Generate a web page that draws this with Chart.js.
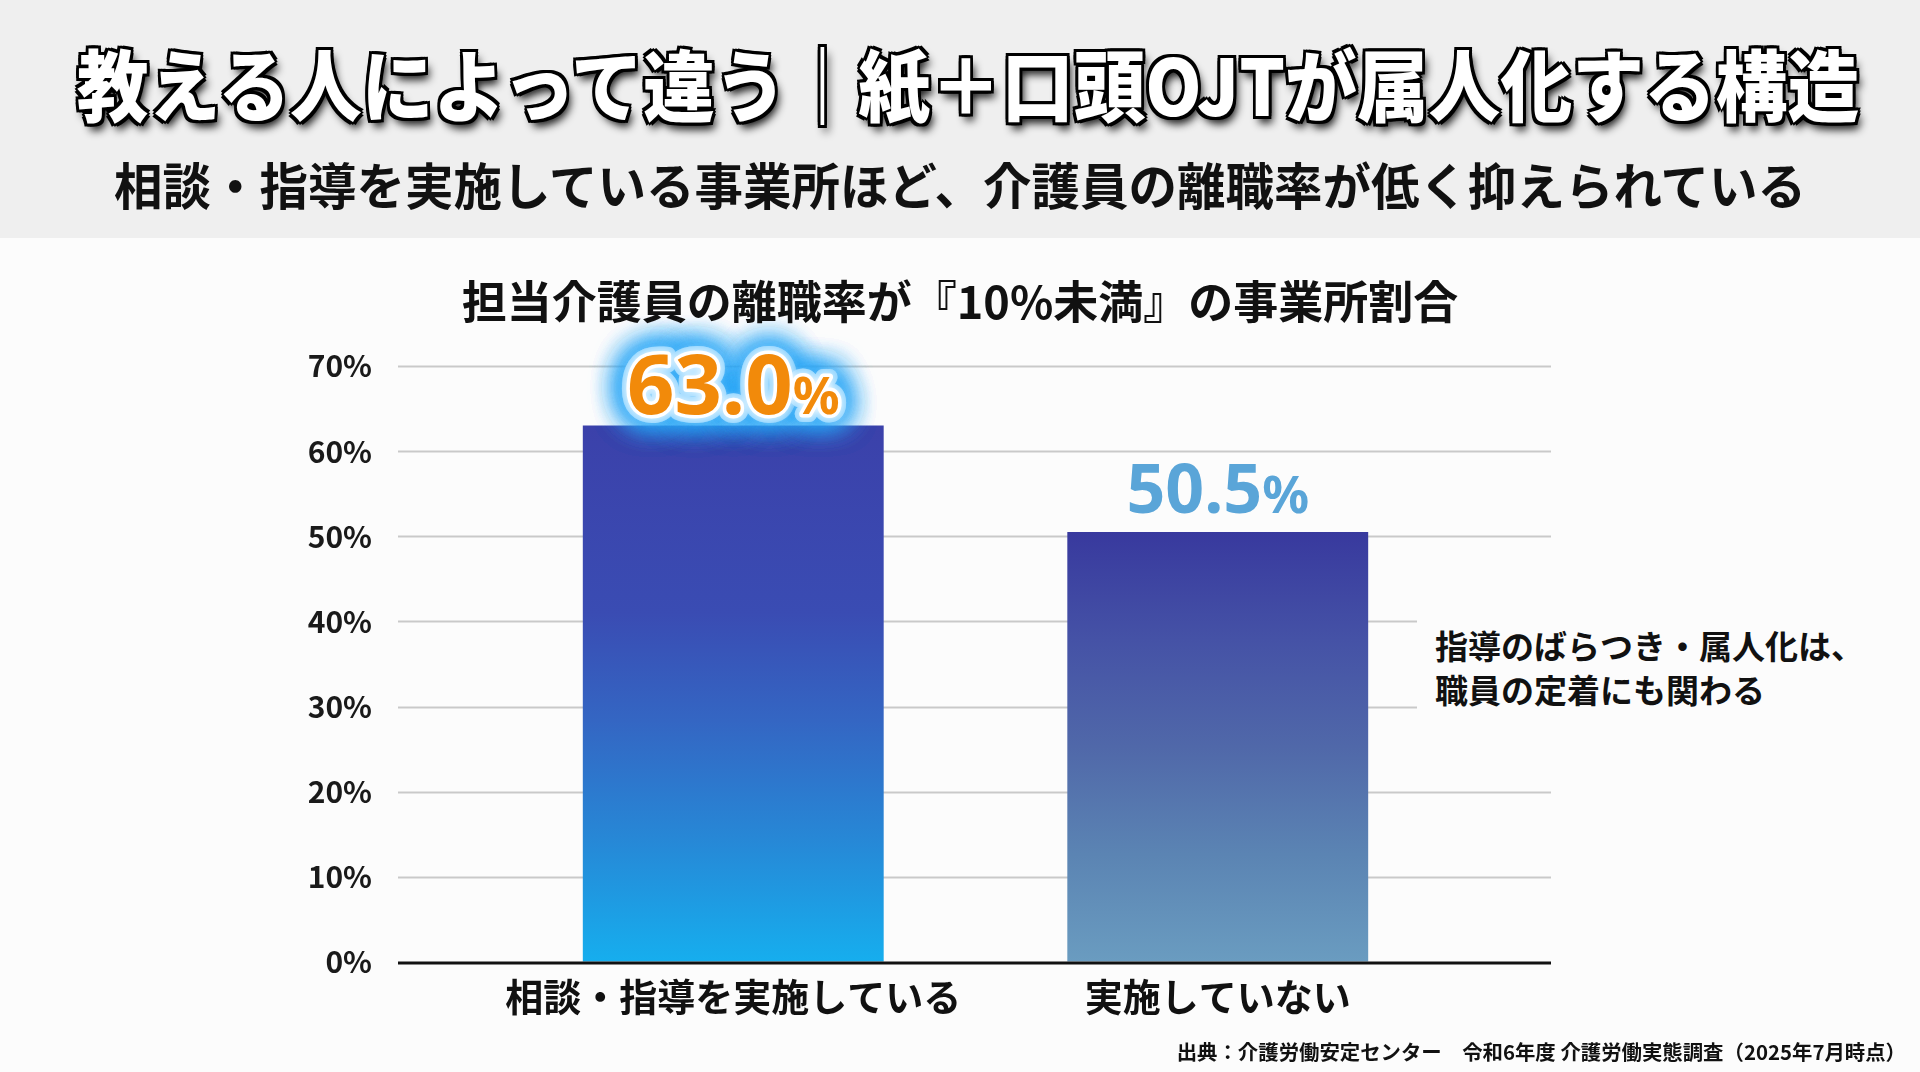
<!DOCTYPE html>
<html lang="ja">
<head>
<meta charset="utf-8">
<script src="https://cdn.jsdelivr.net/npm/chart.js@4.4.1/dist/chart.umd.min.js"></script>
<style>
  html, body { margin: 0; padding: 0; }
  body {
    width: 1920px; height: 1072px; overflow: hidden; position: relative;
    background: #fcfcfc;
    font-family: "Noto Sans CJK JP", sans-serif;
  }
  .band { position: absolute; left: 0; top: 0; width: 1920px; height: 238px; background: #efefef; }
  .txt { position: absolute; left: 0; width: 1920px; text-align: center; white-space: nowrap; }
  #title {
    top: 43px; font-size: 78px; line-height: 78px; font-weight: 900; color: #fff;
    transform: scaleX(0.92);
    text-shadow: -3px -3px 0 #000, 3px -3px 0 #000, -3px 3px 0 #000, 3px 3px 0 #000,
      0 -3px 0 #000, 0 3px 0 #000, -3px 0 0 #000, 3px 0 0 #000,
      4px 7px 9px rgba(0,0,0,0.9);
  }
  #subtitle { top: 158px; font-size: 50px; line-height: 50px; font-weight: 700; color: #111; transform: scaleX(0.97); }
  #ctitle { top: 277px; font-size: 45px; line-height: 45px; font-weight: 700; color: #111; }
  #source { left: auto; right: 14px; width: auto; top: 1041px; font-size: 20.4px; line-height: 20px; font-weight: 700; color: #111; text-align: right; }
  #note {
    position: absolute; left: 1417px; top: 600px; width: 480px; height: 130px;
    background: #fcfcfc; box-sizing: border-box; padding: 23px 0 0 18px;
    font-size: 33px; line-height: 44px; font-weight: 700; color: #111; white-space: nowrap;
  }
  #wrap { position: absolute; left: 0; top: 0; width: 1920px; height: 1072px; }
</style>
</head>
<body>
<div class="band"></div>
<div id="wrap"><canvas id="chart"></canvas></div>
<div class="txt" id="title">教える人によって違う｜紙＋口頭OJTが属人化する構造</div>
<div class="txt" id="subtitle">相談・指導を実施している事業所ほど、介護員の離職率が低く抑えられている</div>
<div class="txt" id="ctitle">担当介護員の離職率が『10%未満』の事業所割合</div>
<div id="note">指導のばらつき・属人化は、<br>職員の定着にも関わる</div>
<div class="txt" id="source">出典：介護労働安定センター　令和6年度 介護労働実態調査（2025年7月時点）</div>

<script>
const categories = ['相談・指導を実施している', '実施していない']
const rates = [63.0, 50.5]
const rateLabels = ['63.0', '50.5']
const labelColors = ['#f28a0a', '#5aa5d8']
const yMax = 70
const yStep = 10

// colour stops for each bar, top -> bottom
const barStops = [
  [[0, '#3b41aa'], [0.35, '#3a4cb3'], [0.55, '#3466c3'], [0.78, '#2689d7'], [1, '#16aeee']],
  [[0, '#38399e'], [0.25, '#4552a6'], [0.5, '#5068a9'], [0.75, '#5b84b3'], [1, '#6a9cc0']]
]

function barGradient(ctx) {
  const chart = ctx.chart
  if (!chart.chartArea) return '#3b41aa'
  const y = chart.scales.y
  const top = y.getPixelForValue(rates[ctx.dataIndex])
  const bottom = y.getPixelForValue(0)
  const g = chart.ctx.createLinearGradient(0, top, 0, bottom)
  barStops[ctx.dataIndex].forEach(function (s) { g.addColorStop(s[0], s[1]) })
  return g
}

// gridlines reach further than the bars on both sides
const gridPlugin = {
  id: 'wideGrid',
  beforeDatasetsDraw(chart) {
    const c = chart.ctx
    const y = chart.scales.y
    const left = chart.chartArea.left - 93
    const right = chart.chartArea.right + 91
    c.save()
    c.strokeStyle = '#c9c9c9'
    c.lineWidth = 2
    y.ticks.forEach(function (t) {
      if (t.value === 0) return
      const py = Math.round(y.getPixelForValue(t.value)) + 0.5
      c.beginPath()
      c.moveTo(left, py)
      c.lineTo(right, py)
      c.stroke()
    })
    c.restore()
  },
  afterDatasetsDraw(chart) {
    const c = chart.ctx
    const y = chart.scales.y
    const py = y.getPixelForValue(0)
    c.save()
    c.strokeStyle = '#111'
    c.lineWidth = 3
    c.beginPath()
    c.moveTo(chart.chartArea.left - 93, py + 1)
    c.lineTo(chart.chartArea.right + 91, py + 1)
    c.stroke()
    c.restore()
  }
}

const valuePlugin = {
  id: 'valueLabels',
  afterDatasetsDraw(chart) {
    const c = chart.ctx
    const meta = chart.getDatasetMeta(0)
    meta.data.forEach(function (bar, i) {
      const big = i === 0
      const numFont = big ? '700 83px "Noto Sans"' : '700 68px "Noto Sans"'
      const pctFont = big ? '700 52px "Noto Sans"' : '700 52px "Noto Sans"'
      const base = bar.y - (big ? 12 : 19)
      c.save()
      c.font = numFont
      const wNum = c.measureText(rateLabels[i]).width
      c.font = pctFont
      const wPct = c.measureText('%').width
      const x0 = bar.x - (wNum + wPct) / 2
      c.textBaseline = 'alphabetic'
      c.textAlign = 'left'
      if (big) {
        // blue glow with white halo
        c.lineJoin = 'round'
        c.shadowColor = 'rgba(40,165,245,1)'
        c.shadowBlur = 30
        c.strokeStyle = 'rgba(150,215,255,0.95)'
        c.lineWidth = 16
        for (let k = 0; k < 4; k++) {
          c.font = numFont
          c.strokeText(rateLabels[i], x0, base)
          c.font = pctFont
          c.strokeText('%', x0 + wNum, base)
        }
        c.shadowBlur = 8
        c.shadowColor = 'rgba(255,255,255,1)'
        c.strokeStyle = '#ffffff'
        c.lineWidth = 7
        c.font = numFont
        c.strokeText(rateLabels[i], x0, base)
        c.font = pctFont
        c.strokeText('%', x0 + wNum, base)
        c.shadowBlur = 0
        c.shadowColor = 'transparent'
      }
      c.fillStyle = labelColors[i]
      c.font = numFont
      c.fillText(rateLabels[i], x0, base)
      c.font = pctFont
      c.fillText('%', x0 + wNum, base)
      c.restore()
    })
  }
}

new Chart(document.getElementById('chart'), {
  type: 'bar',
  data: {
    labels: categories,
    datasets: [{
      data: rates,
      backgroundColor: barGradient,
      borderWidth: 0,
      categoryPercentage: 1,
      barPercentage: 0.621
    }]
  },
  options: {
    responsive: true,
    maintainAspectRatio: false,
    animation: false,
    devicePixelRatio: 1,
    layout: { padding: { left: 0, right: 460, top: 366, bottom: 50 } },
    plugins: { legend: { display: false }, tooltip: { enabled: false } },
    scales: {
      x: {
        grid: { display: false },
        border: { display: false },
        ticks: {
          color: '#111',
          padding: 4,
          font: { family: '"Noto Sans CJK JP"', size: 38, weight: '700' }
        },
        afterFit(s) { s.height = 60 }
      },
      y: {
        min: 0,
        max: yMax,
        // invisible tick marks keep the labels well left of the bars
        grid: { display: true, drawOnChartArea: false, drawTicks: true, tickLength: 109, color: 'rgba(0,0,0,0)' },
        border: { display: false },
        ticks: {
          stepSize: yStep,
          padding: 10,
          color: '#1a1a1a',
          font: { family: '"Noto Sans CJK JP"', size: 30, weight: '700' },
          callback: function (v) { return v + '%' }
        },
        afterFit(s) { s.width = 491 }
      }
    }
  },
  plugins: [gridPlugin, valuePlugin]
})
</script>
</body>
</html>
